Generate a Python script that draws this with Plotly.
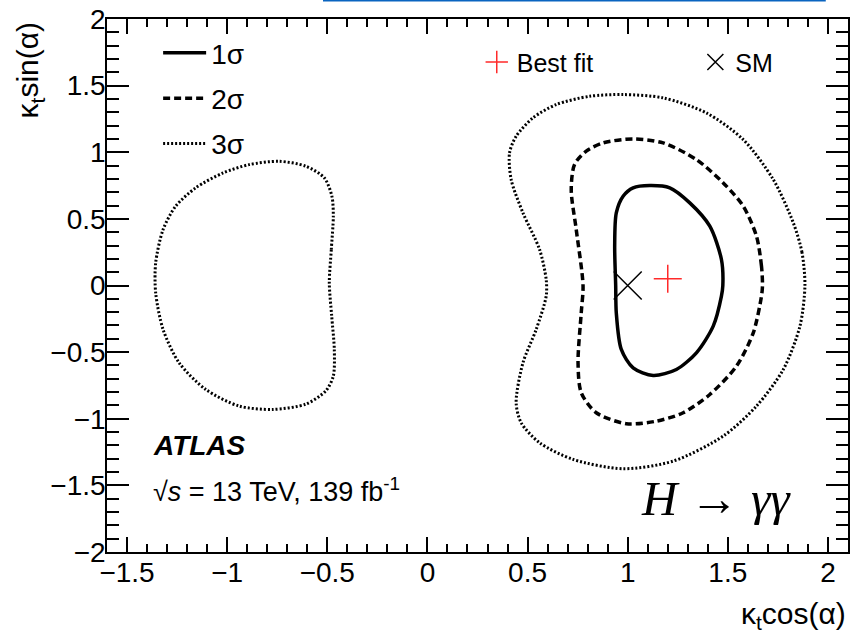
import plotly.graph_objects as go

# ---------------- data ----------------
# 1 sigma contour (solid)
sig1_x = [1.475, 1.468, 1.41, 1.31, 1.21, 1.11, 1.027, 0.977, 0.943, 0.935, 0.94,
          0.943, 0.968, 1.027, 1.127, 1.243, 1.343, 1.427, 1.468, 1.475]
sig1_y = [0.0, 0.195, 0.445, 0.62, 0.733, 0.75, 0.733, 0.67, 0.545, 0.295, 0.0,
          -0.205, -0.48, -0.618, -0.675, -0.63, -0.505, -0.305, -0.08, 0.0]

# 2 sigma contour (dashed)
sig2_x = [1.673, 1.668, 1.643, 1.577, 1.477, 1.343, 1.177, 1.027, 0.877, 0.793, 0.735,
          0.718, 0.743, 0.777, 0.768, 0.752, 0.768, 0.843, 0.993, 1.143, 1.277, 1.41,
          1.543, 1.627, 1.668, 1.673]
sig2_y = [0.0, 0.145, 0.37, 0.595, 0.77, 0.945, 1.07, 1.10, 1.07, 1.008, 0.91,
          0.72, 0.42, 0.0, -0.205, -0.58, -0.805, -0.955, -1.037, -1.018, -0.955, -0.818,
          -0.605, -0.355, -0.08, 0.0]

# 3 sigma contour, right island (dotted)
sig3r_x = [1.885, 1.87, 1.827, 1.727, 1.577, 1.393, 1.177, 0.977, 0.81, 0.643, 0.527,
           0.443, 0.41, 0.418, 0.477, 0.56, 0.593, 0.593, 0.543, 0.477, 0.443, 0.468,
           0.56, 0.727, 0.977, 1.227, 1.477, 1.643, 1.777, 1.86, 1.885]
sig3r_y = [0.0, 0.25, 0.47, 0.795, 1.095, 1.295, 1.408, 1.433, 1.42, 1.358, 1.258,
           1.12, 0.995, 0.795, 0.545, 0.27, 0.045, -0.08, -0.33, -0.58, -0.88, -1.03,
           -1.18, -1.305, -1.375, -1.318, -1.13, -0.905, -0.63, -0.305, 0.0]

# 3 sigma contour, left island (dotted)
sig3l_x = [-0.49, -0.48, -0.47, -0.477, -0.515, -0.607, -0.74, -0.89, -1.02, -1.157,
           -1.257, -1.32, -1.357, -1.357, -1.32, -1.24, -1.107, -0.94, -0.773, -0.607,
           -0.507, -0.47, -0.465, -0.478, -0.49]
sig3l_y = [0.02, 0.27, 0.52, 0.67, 0.808, 0.895, 0.932, 0.907, 0.845, 0.733,
           0.595, 0.42, 0.17, -0.055, -0.33, -0.58, -0.78, -0.905, -0.93, -0.89,
           -0.79, -0.68, -0.48, -0.23, 0.02]

bestfit_x = [1.2]
bestfit_y = [0.05]
sm_x = [1.0]
sm_y = [0.0]

xtick_vals = [-1.5, -1, -0.5, 0, 0.5, 1, 1.5, 2]
xtick_text = ["\u22121.5", "\u22121", "\u22120.5", "0", "0.5", "1", "1.5", "2"]
ytick_vals = [-2, -1.5, -1, -0.5, 0, 0.5, 1, 1.5, 2]
ytick_text = ["\u22122", "\u22121.5", "\u22121", "\u22120.5", "0", "0.5", "1", "1.5", "2"]

# ---------------- figure ----------------
FONT = "Liberation Sans, Arial, Helvetica, sans-serif"
fig = go.Figure()

fig.add_trace(go.Scatter(x=sig1_x, y=sig1_y, mode="lines", name="1\u03c3",
                         line=dict(color="black", width=3.5, shape="spline", smoothing=0.8),
                         legend="legend", legendgroup="g1", legendrank=1))
fig.add_trace(go.Scatter(x=sig2_x, y=sig2_y, mode="lines", name="2\u03c3",
                         line=dict(color="black", width=3.5, dash="7px,4px", shape="spline", smoothing=0.8),
                         legend="legend", legendgroup="g2", legendrank=2))
fig.add_trace(go.Scatter(x=sig3r_x, y=sig3r_y, mode="lines", name="3\u03c3",
                         line=dict(color="black", width=3, dash="2px,2px", shape="spline", smoothing=0.8),
                         legend="legend", legendgroup="g3", legendrank=3))
fig.add_trace(go.Scatter(x=sig3l_x, y=sig3l_y, mode="lines", name="3\u03c3", showlegend=False,
                         line=dict(color="black", width=3, dash="2px,2px", shape="spline", smoothing=0.8),
                         legendgroup="g3"))
fig.add_trace(go.Scatter(x=sm_x, y=sm_y, mode="markers", name="SM", legend="legend3",
                         marker=dict(symbol="x-thin", size=28, color="black",
                                     line=dict(color="black", width=1.5))))
fig.add_trace(go.Scatter(x=bestfit_x, y=bestfit_y, mode="markers", name="Best fit", legend="legend2",
                         marker=dict(symbol="cross-thin", size=20, color="#ff2a2a",
                                     line=dict(color="#ff2a2a", width=1.5))))

axis_common = dict(showgrid=False, zeroline=False, showline=True, linecolor="black", linewidth=1.5,
                   mirror="allticks", ticks="inside", tickcolor="black", tickwidth=1.5,
                   automargin=False,
                   tickfont=dict(family=FONT, size=28, color="black"))

fig.update_xaxes(range=[-1.6, 2.1], tickmode="array", tickvals=xtick_vals, ticktext=xtick_text,
                 ticklen=15, minor=dict(dtick=0.1, tick0=0, ticklen=8, ticks="inside",
                                        tickcolor="black", tickwidth=1.5, showgrid=False),
                 ticklabelstandoff=-5, **axis_common)
fig.update_yaxes(range=[-2, 2], tickmode="array", tickvals=ytick_vals, ticktext=ytick_text,
                 ticklen=22, minor=dict(dtick=0.1, tick0=0, ticklen=12, ticks="inside",
                                        tickcolor="black", tickwidth=1.5, showgrid=False),
                 ticklabelstandoff=-6, **axis_common)

legend_common = dict(bgcolor="rgba(0,0,0,0)", borderwidth=0)
fig.update_layout(
    template="none",
    width=859, height=634,
    margin=dict(l=107, r=11, t=19, b=82, autoexpand=False),
    paper_bgcolor="white", plot_bgcolor="white",
    font=dict(family=FONT, color="black"),
    legend=dict(x=0.069, y=0.983, xanchor="left", yanchor="top", tracegroupgap=6,
                traceorder="grouped", itemwidth=43,
                font=dict(family=FONT, size=28, color="black"), **legend_common),
    legend2=dict(x=0.499, y=0.962, xanchor="left", yanchor="top",
                 font=dict(family=FONT, size=25, color="black"), **legend_common),
    legend3=dict(x=0.794, y=0.962, xanchor="left", yanchor="top",
                 font=dict(family=FONT, size=25, color="black"), **legend_common),
    annotations=[
        dict(text="\u03ba<sub>t</sub>cos(\u03b1)", xref="paper", yref="paper", x=1.0, y=-0.08,
             xanchor="right", yanchor="top", showarrow=False,
             font=dict(family=FONT, size=30, color="black")),
        dict(text="\u03ba<sub>t</sub>sin(\u03b1)", xref="paper", yref="paper", x=-0.104, y=1.0,
             xanchor="center", yanchor="top", textangle=-90, showarrow=False,
             font=dict(family=FONT, size=30, color="black")),
        dict(text="<b><i>ATLAS</i></b>", xref="paper", yref="paper", x=0.06, y=0.167,
             xanchor="left", yanchor="bottom", showarrow=False,
             font=dict(family=FONT, size=28, color="black")),
        dict(text="\u221a<i>s</i> = 13 TeV, 139 fb<sup>-1</sup>", xref="paper", yref="paper",
             x=0.06, y=0.08, xanchor="left", yanchor="bottom", showarrow=False,
             font=dict(family=FONT, size=27, color="black")),
        dict(text="<i>H</i> \u2192 <i>\u03b3\u03b3</i>", xref="paper", yref="paper", x=0.926, y=0.045,
             xanchor="right", yanchor="bottom", showarrow=False,
             font=dict(family="Liberation Serif, DejaVu Serif, serif", size=49, color="black")),
    ],
    shapes=[
        dict(type="line", xref="paper", yref="paper", x0=0.2915, x1=0.970, y0=1.0347, y1=1.0347,
             line=dict(color="#0a64c0", width=2)),
    ],
)

fig.write_html("out.html", config={"displayModeBar": False},
               post_script="document.body.style.margin='0px';")
